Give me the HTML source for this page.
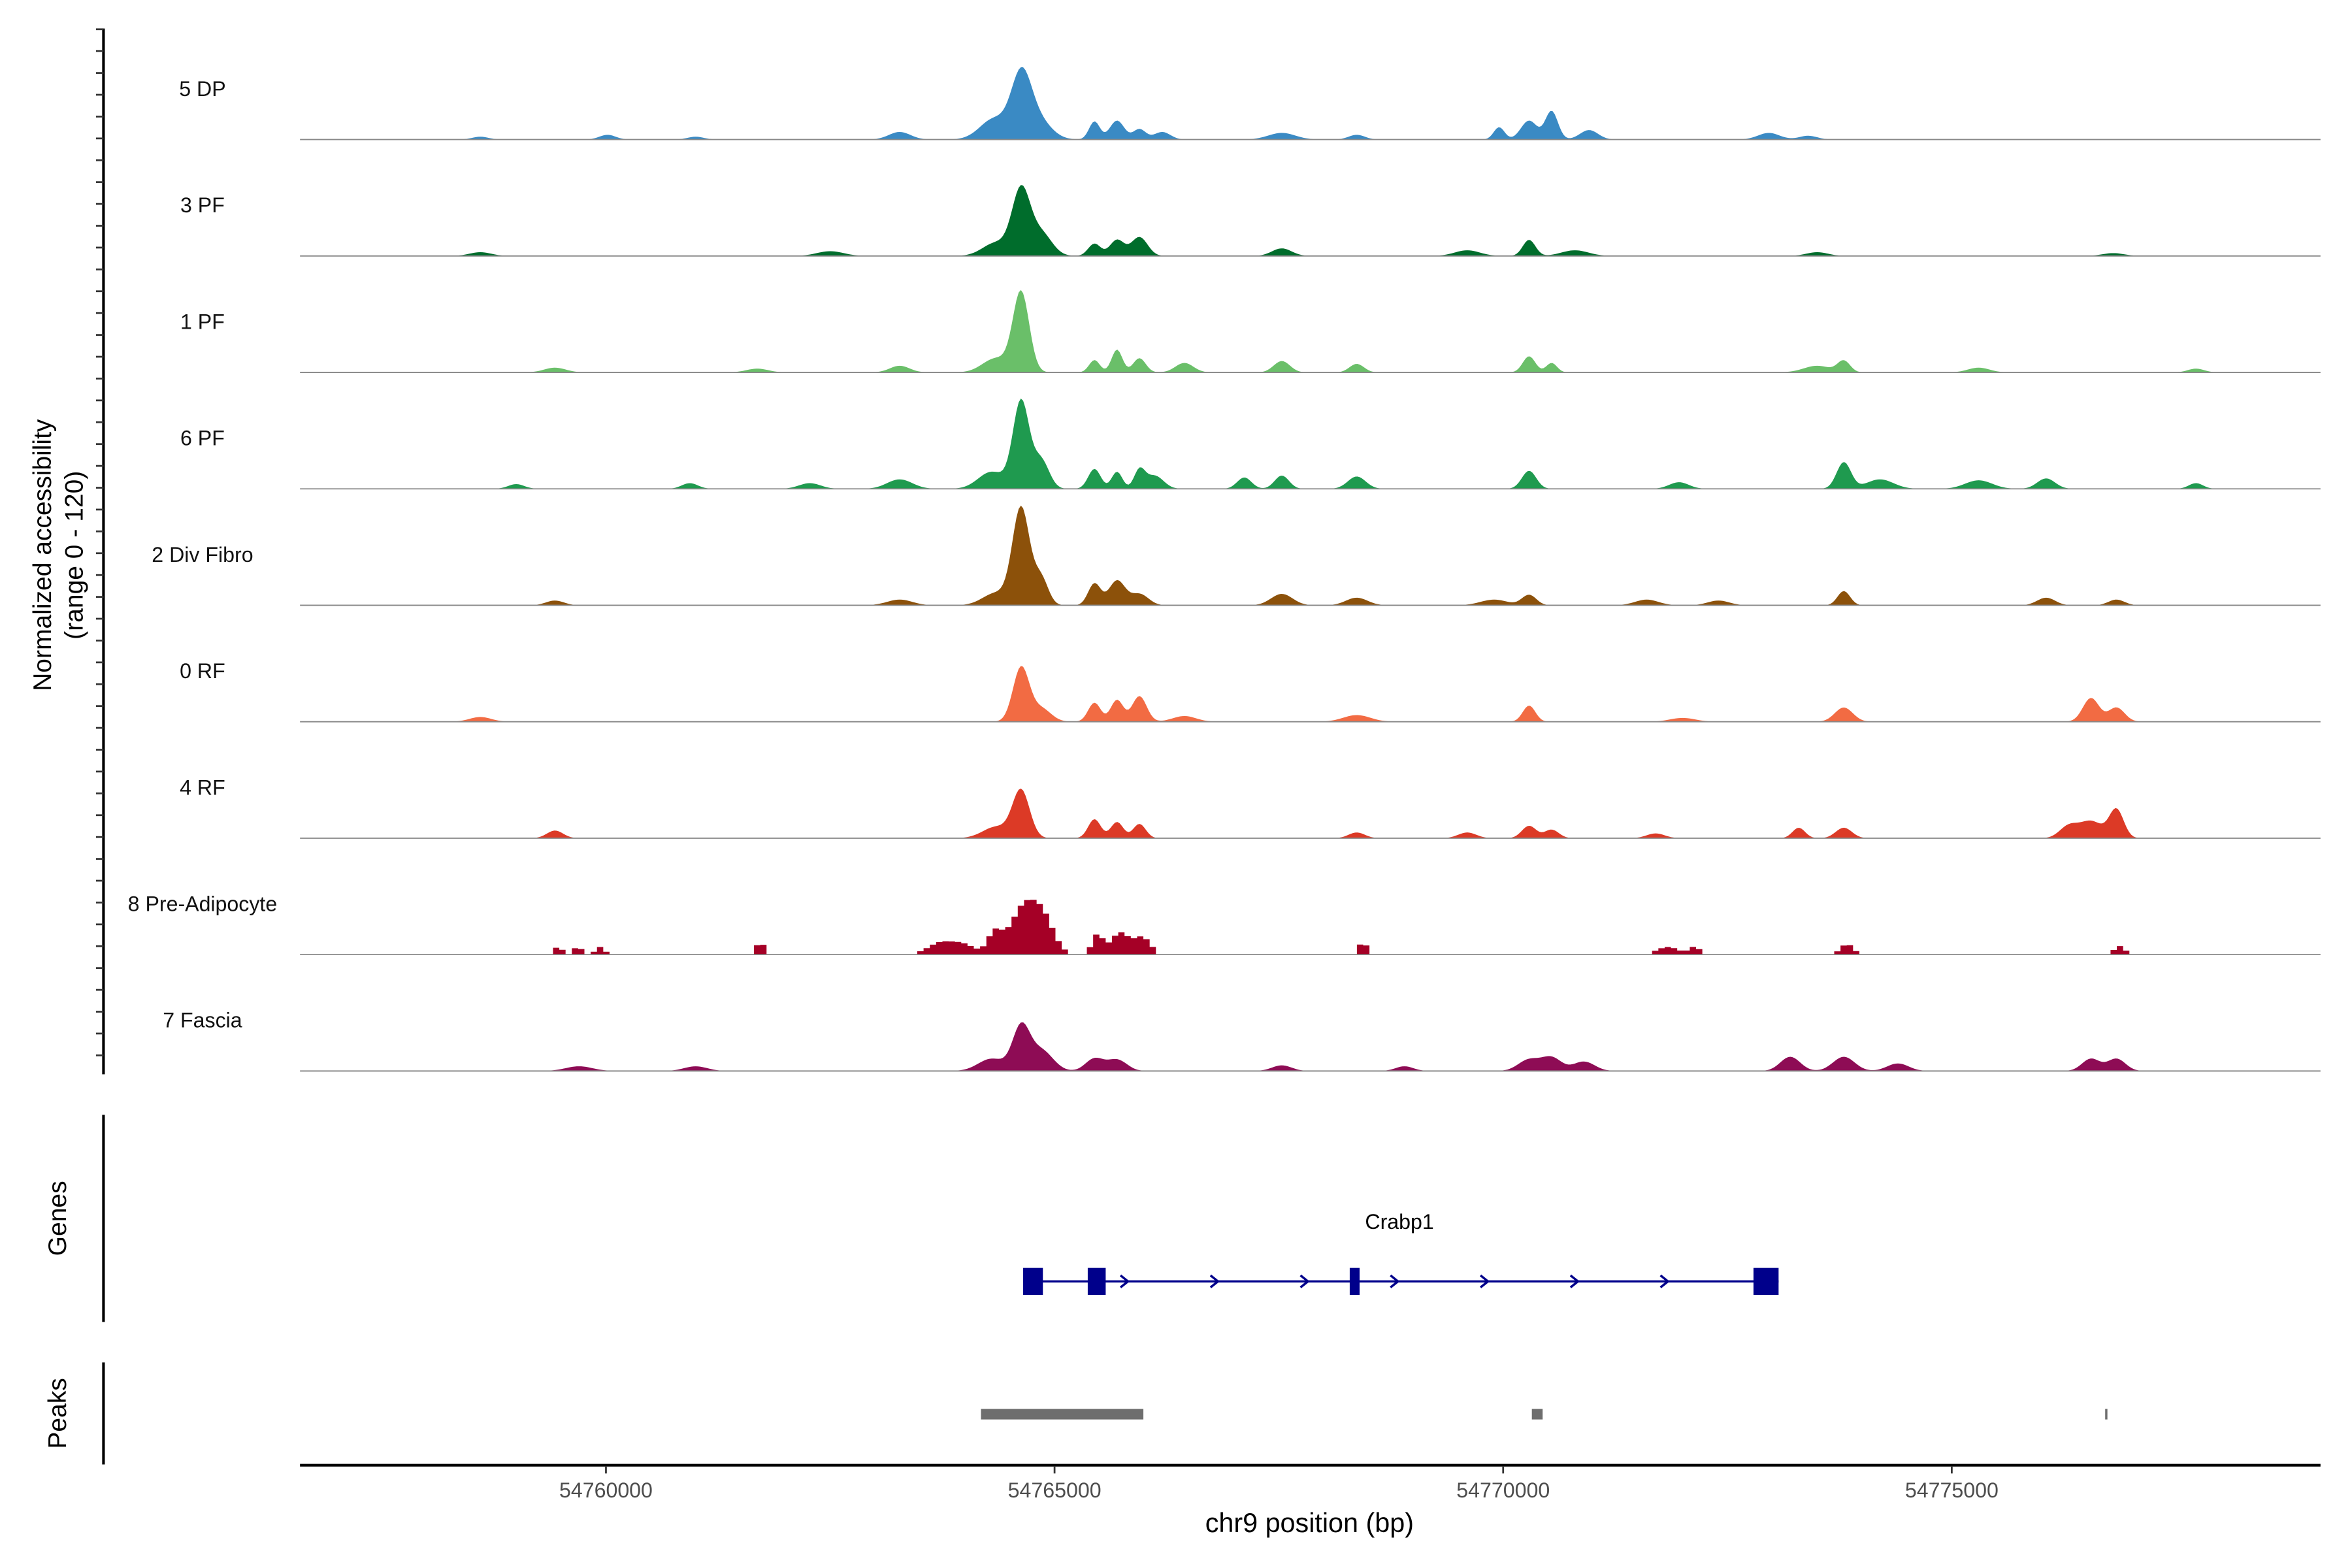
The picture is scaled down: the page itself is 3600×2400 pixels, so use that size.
<!DOCTYPE html>
<html><head><meta charset="utf-8"><style>
html,body{margin:0;padding:0;background:#fff}
svg{display:block;font-family:"Liberation Sans",sans-serif}
</style></head><body>
<svg id="chart" width="3600" height="2400" viewBox="0 0 1568 1045" preserveAspectRatio="none" xmlns="http://www.w3.org/2000/svg">
<rect width="1568" height="1045" fill="#fff"/>
<g id="tracks"></g>
<g id="axes"></g>
</svg>
<script>
// ---- data ----
const trackNames = ["5 DP","3 PF","1 PF","6 PF","2 Div Fibro","0 RF","4 RF","8 Pre-Adipocyte","7 Fascia"];
const trackColors = ["#3a8ac4","#006d2c","#6abf69","#1f9a4f","#8c510a","#f26b43","#dc3a26","#a50026","#8e0c55"];
const peakCenters = [
 [54764627,54764330,54764800,54765445,54765696,54765946,54766200,54770289,54770540,54769955,54770957,54763274,54767533,54772961,54760017,54768368,54773400,54758600,54761000],
 [54764627,54764350,54764850,54765445,54765696,54765946,54770289,54767533,54769600,54770800,54758600,54762500,54773500,54776800],
 [54764627,54764350,54765445,54765696,54765946,54766447,54767533,54768368,54770289,54770540,54773797,54773500,54763274,54759432,54761687,54775300,54777722],
 [54764627,54764300,54764850,54765445,54765696,54765946,54766113,54767115,54767533,54768368,54770289,54773797,54774200,54763274,54760935,54762272,54771960,54775300,54776052,54777722,54759000],
 [54764627,54764850,54764350,54765445,54765696,54765946,54767533,54768368,54770289,54773797,54769900,54771600,54776052,54776836,54763274,54759432,54772400],
 [54764627,54764850,54765445,54765696,54765946,54770289,54773797,54776552,54776836,54768368,54766447,54758600,54772000],
 [54764627,54764350,54765445,54765696,54765946,54770289,54770540,54773295,54773797,54776552,54776836,54776300,54768368,54759432,54769600,54771700],
 [54764627,54764300,54764850,54765445,54765696,54765946,54763690,54763950,54761687,54759432,54759650,54759900,54768400,54771800,54772100,54773797,54776836],
 [54764627,54764850,54764300,54765445,54765696,54770289,54770540,54770900,54773200,54773797,54776552,54776836,54761000,54759700,54767533,54774400,54768900]
];
const peakHeights = [
 [61,22,22,19,20,11,8,20,30,13,10,8,7,7,5,5,4,3,3],
 [68,14,24,13,17,20,17,8,6,6,4,5,4,3],
 [84,15,13,24,15,10,12,9,17,10,12,7,7,5,4,5,4],
 [92,18,30,21,18,19,14,12,14,13,19,28,10,10,6,6,7,9,11,6,5],
 [102,28,13,23,26,12,12,8,11,15,6,6,8,6,6,5,5],
 [57,14,20,23,27,17,15,25,15,7,6,5,4],
 [50,12,20,17,15,13,9,11,11,18,30,12,6,8,6,5],
 [50,22,30,21,23,18,12,10,12,8,8,8,12,8,8,11,9],
 [45,22,13,13,12,12,14,10,15,15,13,13,5,5,6,8,5]
];
const peakWidths = [
 [110,160,150,60,80,70,90,90,70,60,100,120,150,120,90,90,100,90,90],
 [100,150,120,70,80,90,70,110,140,150,120,150,120,120],
 [90,150,60,60,70,100,90,80,70,60,70,150,110,120,120,120,90],
 [90,150,90,70,60,60,100,80,80,100,80,80,150,140,90,120,110,150,100,80,90],
 [95,80,150,70,90,100,120,120,80,70,150,130,100,90,140,100,120],
 [90,110,70,70,80,70,100,90,90,150,130,120,140],
 [95,150,70,70,70,80,80,70,90,130,80,100,90,90,100,100],
 [150,80,120,60,100,90,140,130,60,50,50,50,60,120,60,70,60],
 [95,130,150,100,110,120,110,120,110,120,100,100,130,150,110,120,100]
];
const xTicks = [54760000,54765000,54770000,54775000];
const exonStarts = [54764650,54765370,54768290,54772790];
const exonEnds = [54764870,54765570,54768400,54773070];
const peakRegionStarts = [54764180,54770320,54776710];
const peakRegionEnds = [54765990,54770440,54776730];

// ---- scales ----
const X0=200, X1=1547, BP0=54756590, BP1=54779110;
const xs = bp => X0 + (bp-BP0)/(BP1-BP0)*(X1-X0);
const baseTop=93, trackH=77.6, yScale=76/120;
const NS="http://www.w3.org/2000/svg";
function mk(tag, attrs, parent){const e=document.createElementNS(NS,tag);for(const k in attrs)e.setAttribute(k,attrs[k]);parent.appendChild(e);return e;}
const gT=document.getElementById('tracks'), gA=document.getElementById('axes');

trackNames.forEach((name,i)=>{
  const base = baseTop + i*trackH;
  const g = mk('g',{},gT);
  
  
  const step = i===7 ? 70 : 25;
  let d = `M${xs(54757800)},${base}`;
  for(let bp=54757800; bp<=54778000; bp+=step){
    let v=0;
    peakCenters[i].forEach((c,j)=>{const z=(bp-c)/peakWidths[i][j]; v+=peakHeights[i][j]*Math.exp(-z*z/2);});
    if(i===7 && v<3) v=0;
    const y = base - Math.min(v,120)*yScale;
    if(i===7){ d+=`L${xs(bp)},${y}L${xs(bp+step)},${y}`; } else d+=`L${xs(bp)},${y}`;
  }
  d+=`L${xs(54778000)},${base}Z`;
  const p=mk('path',{d:d,fill:trackColors[i]},g);
  
  
  const bl=mk('line',{x1:X0,x2:X1,y1:base,y2:base,stroke:'#888','stroke-width':0.8},g);
  
  
  const t=mk('text',{x:135,y:base-29,'font-size':14,'text-anchor':'middle',fill:'#111'},g);
  t.textContent=name;
  
  
});

let la=mk('line',{x1:69,x2:69,y1:19,y2:716,stroke:'#000','stroke-width':1.8},gA);


for(let y=19.5;y<=716;y+=14.55){const l=mk('line',{x1:64,x2:69,y1:y,y2:y,stroke:'#333','stroke-width':1.2},gA);
  
  }
let yt=mk('text',{transform:'translate(34,370) rotate(-90)','font-size':17,'text-anchor':'middle'},gA);
yt.textContent='Normalized accessibility';


let yt2=mk('text',{transform:'translate(55,370) rotate(-90)','font-size':17,'text-anchor':'middle'},gA);
yt2.textContent='(range 0 - 120)';



let ga=mk('line',{x1:69,x2:69,y1:743,y2:881,stroke:'#000','stroke-width':1.8},gA);


let gt=mk('text',{transform:'translate(44,812) rotate(-90)','font-size':17,'text-anchor':'middle'},gA);
gt.textContent='Genes';


const gy=854;
let gl=mk('line',{x1:xs(exonStarts[0]),x2:xs(exonEnds[3]),y1:gy,y2:gy,stroke:'#00008b','stroke-width':1.5},gA);


for(let x=690;x<1170;x+=60){const a=mk('path',{d:`M${x-3},${gy-4}L${x+2},${gy}L${x-3},${gy+4}`,fill:'none',stroke:'#00008b','stroke-width':1.5},gA);
  
  }
exonStarts.forEach((s,k)=>{const r=mk('rect',{x:xs(s),y:gy-9,width:Math.max(5,xs(exonEnds[k])-xs(s)),height:18,fill:'#00008b'},gA);
  
  });
let gn=mk('text',{x:933,y:819,'font-size':14,'text-anchor':'middle'},gA);
gn.textContent='Crabp1';



let pa=mk('line',{x1:69,x2:69,y1:908,y2:976,stroke:'#000','stroke-width':1.8},gA);


let pt=mk('text',{transform:'translate(44,942) rotate(-90)','font-size':17,'text-anchor':'middle'},gA);
pt.textContent='Peaks';


peakRegionStarts.forEach((s,k)=>{const r=mk('rect',{x:xs(s),y:939,width:Math.max(1.5,xs(peakRegionEnds[k])-xs(s)),height:7,fill:'#6e6e6e'},gA);
  
  });

let xa=mk('line',{x1:X0,x2:X1,y1:976.5,y2:976.5,stroke:'#000','stroke-width':1.8},gA);


xTicks.forEach(t=>{const x=xs(t);
  const l=mk('line',{x1:x,x2:x,y1:977,y2:982,stroke:'#333','stroke-width':1.2},gA);
  
  
  const tx=mk('text',{x:x,y:998,'font-size':14,'text-anchor':'middle',fill:'#4d4d4d'},gA);
  tx.textContent=t;
  
  });
let xt=mk('text',{x:873,y:1021,'font-size':18,'text-anchor':'middle'},gA);
xt.textContent='chr9 position (bp)';


</script>
</body></html>
